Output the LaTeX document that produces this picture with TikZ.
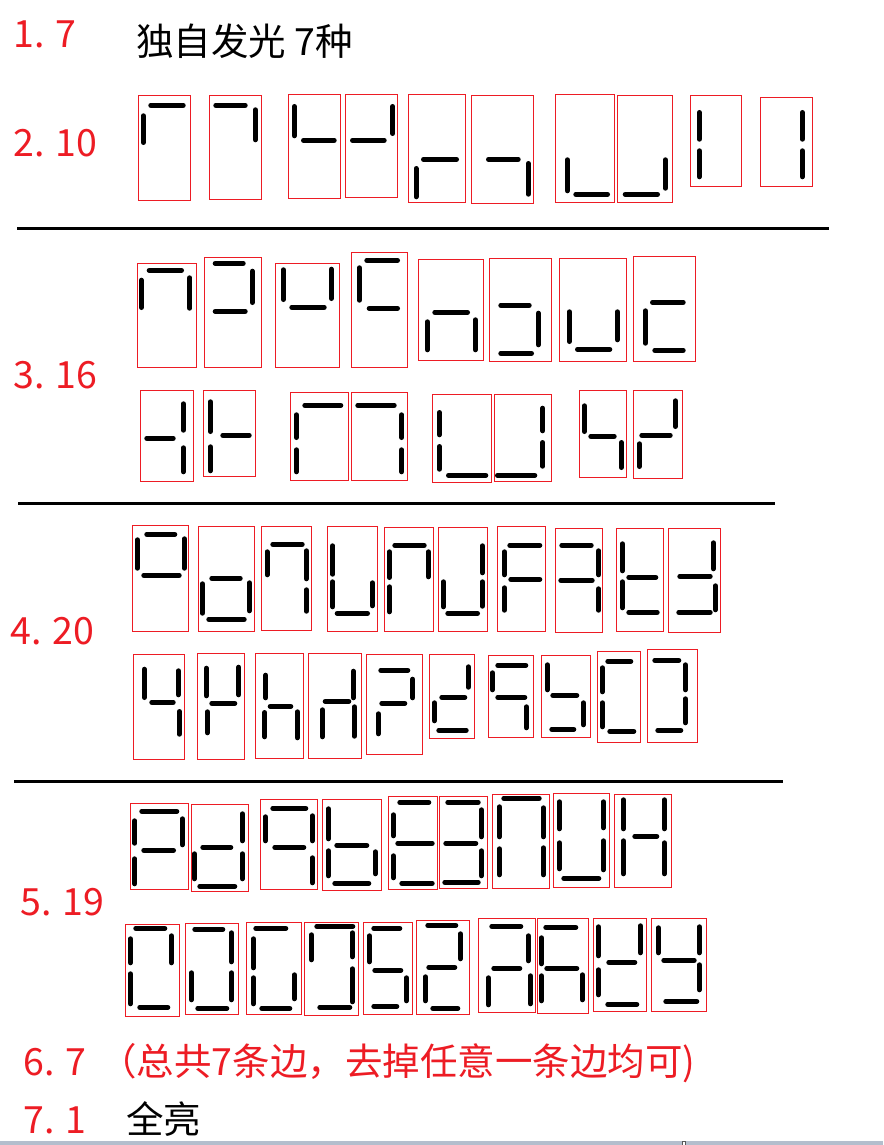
\documentclass[tikz,border=0pt]{standalone}
\usepackage{fontspec}
\newfontfamily\cjk{Noto Sans CJK SC}
\definecolor{pred}{RGB}{237,28,36}
\definecolor{barg}{RGB}{180,190,205}
\newcommand\bx[4]{\draw[boxline] (#1,#2) rectangle (#3,#4);}
\newcommand\hs[3]{\draw[seg] ({#2+2.5},#1) -- ({#3-2.5},#1);}
\newcommand\vs[3]{\draw[seg] (#1,{#2+2.5}) -- (#1,{#3-2.5});}
\begin{document}
\begin{tikzpicture}[x=1pt,y=-1pt,
  seg/.style={line width=5pt,line cap=round,black},
  boxline/.style={draw=pred,line width=1pt},
  rule/.style={line width=3pt,black},
  lab/.style={anchor=base west,inner sep=0pt,font=\cjk\fontsize{37.5}{37.5}\selectfont},
  redlab/.style={lab,text=pred}]
\useasboundingbox (0,0) rectangle (883,1145);
\fill[white] (0,0) rectangle (883,1145);
% labels
\node[redlab] (l1) at (13,48) {1. 7};
\node[lab] (t1) at (136,56) {独自发光 7种};
\node[redlab] (l2) at (13,157) {2. 10};
\node[redlab] (l3) at (13,388) {3. 16};
\node[redlab] (l4) at (10,644) {4. 20};
\node[redlab] (l5) at (20,915) {5. 19};
\node[redlab] (l6) at (23,1075) {6. 7};
\node[redlab] (t6) at (99,1075) {（总共7条边，去掉任意一条边均可)};
\node[redlab] (l7) at (23,1133) {7. 1};
\node[lab] (t7) at (126,1133) {全亮};
% rules
\draw[rule] (17,228) -- (829,228);
\draw[rule] (18,503) -- (775,503);
\draw[rule] (14,781) -- (783,781);
% bottom strip
\fill[barg] (0,1141) rectangle (883,1145);
\draw[gray!70!black,fill=white,line width=0.8pt] (682,1141.5) rectangle (685.5,1145);
% row 2
\bx{138.3}{95.7}{190.3}{200.3}\hs{105.3}{148.3}{185.7}\vs{143.3}{113.3}{145}
\bx{209.3}{95.7}{261.3}{199.3}\hs{105.3}{213.3}{247.7}\vs{255.3}{107.3}{142.3}
\bx{288.3}{94.7}{340.3}{198.3}\vs{294.3}{104}{138.3}\hs{140.3}{301}{336.7}
\bx{345.3}{94.7}{397.3}{197.3}\hs{140.3}{350}{386.7}\vs{392.7}{104}{136}
\bx{408.3}{94.3}{465.3}{202.3}\hs{159.3}{421}{459}\vs{416}{166}{199.3}
\bx{471.3}{95.3}{533.3}{203.3}\hs{159.3}{486}{520.7}\vs{528.3}{161}{196.7}
\bx{555.3}{94.3}{614.3}{202.3}\vs{567.3}{157.3}{193.3}\hs{194.3}{573.3}{610}
\bx{617.3}{95.3}{672.3}{202.3}\hs{194.3}{622.7}{660}\vs{665.3}{157.3}{190.7}
\bx{690.3}{95.3}{741.3}{186.3}\vs{699.3}{110}{141.7}\vs{699.3}{148.3}{179.3}
\bx{760.3}{97.3}{812.3}{186.3}\vs{802.3}{110}{141.7}\vs{802.3}{148.3}{179.3}
% row 3a
\bx{137.3}{263.3}{196.3}{367.3}\hs{270.3}{146.7}{184}\vs{141.3}{277.7}{310}\vs{189.7}{275.3}{310.7}
\bx{204.3}{257.3}{261.3}{367.3}\hs{263.3}{212.7}{245.7}\vs{252.3}{268.7}{305}\hs{311.3}{212.7}{247.7}
\bx{275.3}{263.3}{339.3}{367.3}\vs{283.3}{267.3}{302}\vs{331.3}{266.7}{301}\hs{307.3}{289.3}{326.7}
\bx{351.3}{252.3}{407.3}{367.3}\hs{260.3}{364.3}{400}\vs{359.3}{265.3}{302.7}\hs{308.3}{366.7}{400}
\bx{418.3}{259.3}{483.3}{360.3}\hs{312.3}{432.3}{470}\vs{427.3}{319.3}{352.3}\vs{475.3}{317.3}{352.3}
\bx{489.3}{258.3}{551.7}{361.3}\hs{305.3}{498.3}{531.7}\vs{538.3}{310.7}{347.3}\hs{353.3}{498.3}{534}
\bx{559.3}{258.3}{626.7}{361.3}\vs{569.3}{309.3}{344}\vs{617.3}{309.3}{342.3}\hs{349.3}{575}{612.3}
\bx{633.3}{256.3}{695.3}{361.3}\hs{302.3}{650}{685.7}\vs{645.3}{308.3}{345.7}\hs{350.3}{652.3}{685.7}
% row 3b
\bx{140.3}{390.3}{193.3}{481}\hs{438.3}{144.3}{175.7}\vs{183.3}{401.3}{432.7}\vs{183.3}{445.3}{474.3}
\bx{203.3}{390.3}{255.3}{476}\vs{210.3}{399.3}{434}\vs{210.3}{444.3}{473.3}\hs{435.3}{220.3}{251.7}
\bx{290.3}{392.3}{348.3}{480}\hs{405.3}{302.3}{343.3}\vs{296.3}{412.3}{440}\vs{296.3}{447.3}{474.3}
\bx{351.3}{392.3}{407.3}{480}\hs{405.3}{355.3}{396.7}\vs{401.7}{412.3}{440}\vs{401.7}{447.3}{474.3}
\bx{432.3}{394.3}{491.7}{482.3}\vs{439.3}{410}{437.3}\vs{439.3}{444}{471.7}\hs{475.3}{446}{488.3}
\bx{494.3}{394.3}{551.7}{481.3}\vs{542.7}{405.7}{433.3}\vs{542.7}{440}{468.7}\hs{475.3}{495}{537.3}
\bx{579.3}{390.3}{626.7}{477.3}\vs{584.3}{403.3}{434}\hs{436.3}{588.3}{616.7}\vs{621.3}{440}{470}
\bx{633.3}{390.3}{682.3}{478.3}\vs{675.3}{398.3}{429}\hs{435.3}{639.3}{672.7}\vs{639.3}{441.3}{469}
% row 4a
\bx{132.3}{525.3}{188.3}{631.3}\hs{534.3}{144.3}{177.3}\vs{137.3}{537.3}{570.7}\vs{184.3}{536.3}{570.7}\hs{575.3}{141.3}{181.7}
\bx{198.3}{526.3}{254.3}{631.3}\hs{578.3}{209.3}{242.7}\vs{202.3}{581.3}{615.7}\vs{249.3}{580.3}{613.3}\hs{619.3}{206.3}{246.7}
\bx{261.3}{526.3}{311.3}{630.3}\hs{544.3}{270.3}{304.7}\vs{267}{549.3}{577.3}\vs{306.3}{548.3}{581.3}\vs{306.3}{587.3}{613.7}
\bx{327.3}{526.3}{377.3}{631.3}\vs{332.7}{543.3}{576.7}\vs{332.7}{579.3}{609.3}\vs{372.3}{580.3}{608.3}\hs{613.3}{334.7}{370}
\bx{384.3}{527.3}{433.3}{631.3}\hs{545.3}{392.3}{426.7}\vs{389.3}{549.3}{580}\vs{389.3}{584.3}{614.3}\vs{428.3}{549.3}{579.3}
\bx{438.3}{527.3}{487.3}{631.3}\vs{482.3}{543.3}{575.3}\vs{482.3}{579.3}{608.7}\vs{443.3}{579.3}{609.3}\hs{613.3}{445.3}{480}
\bx{497.3}{526.3}{545.3}{631.3}\hs{545.3}{507.3}{542.3}\vs{504.3}{549.3}{577.3}\vs{504.3}{585.3}{612.7}\hs{579.3}{508.3}{542.3}
\bx{555.3}{528.3}{602.3}{632.3}\hs{545.3}{559.3}{593.7}\vs{598.7}{548.3}{577.3}\vs{598.7}{586.3}{612.7}\hs{580.3}{558.3}{594.7}
\bx{616.3}{528.3}{663.3}{631.3}\vs{622.3}{541.3}{573.3}\vs{622.3}{579.3}{610.3}\hs{577.3}{626.3}{658.3}\hs{612.3}{626.3}{659.7}
\bx{668.3}{528.3}{720.3}{632.3}\vs{713.3}{540.3}{571.3}\hs{576.3}{677.3}{712.7}\vs{715.3}{583.3}{612.3}\hs{612.3}{676.3}{712.7}
% row 4b
\bx{133.3}{654.3}{184.3}{759.3}\vs{144.3}{666.7}{700}\hs{702.3}{149.3}{175.7}\vs{178.3}{668.3}{697.3}\vs{179.3}{709}{736.7}
\bx{197.3}{653.3}{244.3}{759.3}\vs{206.3}{665.7}{698.3}\vs{238.7}{664.7}{697.3}\hs{703.3}{209.3}{237.3}\vs{207.3}{709.3}{735.3}
\bx{255.3}{653.3}{303.3}{758.3}\vs{265.7}{672.7}{700.3}\hs{706.3}{267.7}{293.3}\vs{264.7}{710}{739.3}\vs{297.3}{709.3}{740.3}
\bx{308.3}{653.3}{361.3}{758.3}\vs{353.3}{668.7}{700.3}\hs{701.3}{322.7}{351.3}\vs{322.3}{707.3}{739.3}\vs{354.3}{704.3}{738.7}
\bx{366.3}{654.3}{422.3}{754.3}\hs{670.3}{378.3}{410.3}\vs{412.7}{676.7}{700.3}\hs{703.3}{379.3}{407.3}\vs{378.3}{711.3}{736.3}
\bx{429.3}{654.3}{474.3}{738.3}\vs{468.3}{664.3}{689.7}\hs{697.3}{439.3}{467.3}\vs{434.3}{700.3}{723.3}\hs{730.3}{436.3}{468.7}
\bx{488.3}{655.3}{533.3}{737.3}\hs{665.3}{495.3}{528.3}\vs{492.3}{670.3}{692.3}\hs{697.3}{495.3}{527.3}\vs{526.3}{704.3}{730.3}
\bx{541.3}{655.3}{590.3}{737.3}\vs{547.3}{662.3}{692.3}\hs{695.3}{550.3}{579.3}\vs{583.3}{700.3}{727.3}\hs{729.3}{549.3}{576.3}
\bx{597.3}{651.3}{640.3}{742.3}\hs{661.3}{605.3}{633.3}\vs{602.3}{665.3}{694.3}\vs{602.3}{700.3}{729.3}\hs{731.3}{607.3}{636.3}
\bx{647.3}{649.3}{697.3}{742.3}\hs{660.3}{652.3}{681.3}\vs{685.3}{662.3}{692.3}\vs{685.3}{696.3}{725.3}\hs{730.3}{655.3}{683.3}
% row 5a
\bx{130.3}{803.3}{188.3}{889.3}\hs{811.3}{139.3}{179.3}\vs{134.7}{818.3}{845.7}\vs{134.7}{856.3}{886.3}\vs{182.3}{816.3}{847.3}\hs{850.3}{141.3}{176}
\bx{191.3}{804.3}{248.3}{891.3}\vs{242.3}{811.3}{843.3}\vs{242.3}{851.3}{881.3}\hs{847.3}{200.3}{233.3}\vs{194.3}{851.3}{881.3}\hs{886.3}{197.3}{237.3}
\bx{260.3}{799.3}{317.3}{889.3}\hs{808.3}{270.3}{308.3}\vs{265.3}{814.3}{843.3}\vs{312.3}{813.3}{843.3}\vs{312.3}{855.3}{885.3}\hs{847.3}{272.3}{306.3}
\bx{322.3}{799.3}{381.3}{890.3}\vs{328.3}{806.3}{841.3}\vs{328.3}{848.3}{878.3}\hs{845.3}{334.3}{369.3}\vs{375.3}{849.3}{876.3}\hs{883.3}{332.3}{371.3}
\bx{388.3}{796.3}{437.3}{889.3}\hs{802.3}{397.3}{431.3}\vs{393.3}{812.3}{838.3}\vs{393.3}{853.3}{880.3}\hs{843.3}{395.3}{434.7}\hs{883.3}{399.3}{434.7}
\bx{439.3}{796.3}{487.3}{888.3}\hs{802.3}{445.3}{480.7}\vs{481.3}{807.3}{839.3}\vs{481.3}{848.3}{878.3}\hs{843.3}{443.3}{478.3}\hs{882.3}{442.3}{480.7}
\bx{492.3}{794.3}{549.3}{888.3}\hs{798.3}{501.3}{541.7}\vs{499.3}{804.3}{839.3}\vs{499.3}{846.3}{877.3}\vs{543.3}{805.3}{839.3}\vs{543.3}{845.3}{877.3}
\bx{553.3}{793.3}{609.3}{887.3}\vs{559.3}{799.3}{831.3}\vs{559.3}{840.3}{871.3}\vs{603.3}{799.3}{830.3}\vs{603.3}{838.3}{872.3}\hs{878.3}{561.3}{601.3}
\bx{614.3}{794.3}{671.3}{887.3}\vs{623.3}{797.3}{831.3}\vs{623.3}{838.3}{876.3}\vs{664.3}{797.3}{831.3}\vs{664.3}{840.3}{876.3}\hs{836.3}{632.3}{659.3}
% row 5b
\bx{125.3}{924.3}{179.3}{1016.3}\hs{928.3}{133.3}{167.3}\vs{130.3}{936.3}{965.3}\vs{130.3}{971.3}{1006.3}\vs{171.3}{933.3}{965.3}\hs{1007.3}{137.3}{170.3}
\bx{185.3}{923.3}{238.3}{1014.3}\hs{929.3}{192.3}{225.3}\vs{231.3}{930.3}{964.3}\vs{231.3}{970.3}{1002.3}\vs{191.3}{970.3}{1002.3}\hs{1008.3}{195.3}{229.3}
\bx{246.3}{922.3}{301.3}{1014.3}\hs{928.3}{253.3}{288.3}\vs{253.3}{936.3}{970.3}\vs{253.3}{975.3}{1006.3}\vs{294.3}{972.3}{1001.3}\hs{1008.3}{259.3}{292.3}
\bx{304.3}{922.3}{358.3}{1015.3}\hs{926.3}{314.3}{355.3}\vs{311.3}{932.3}{962.3}\vs{352.3}{930.3}{959.3}\vs{352.3}{966.3}{1004.3}\hs{1007.3}{317.3}{352.3}
\bx{363.3}{922.3}{412.3}{1014.3}\hs{928.3}{371.3}{402.3}\vs{369.3}{933.3}{964.3}\hs{970.3}{372.3}{403.3}\vs{406.3}{975.3}{1003.3}\hs{1006.3}{371.3}{399.3}
\bx{416.3}{920.3}{469.3}{1014.3}\hs{925.3}{425.3}{458.3}\vs{460.3}{931.3}{961.3}\hs{967.3}{426.3}{457.3}\vs{425.3}{974.3}{1003.3}\hs{1008.3}{430.3}{460.3}
\bx{478.3}{918.3}{535.3}{1012.3}\hs{926.3}{489.3}{523.3}\vs{528.3}{933.3}{963.3}\hs{968.3}{491.3}{522.3}\vs{488.3}{975.3}{1007.3}\vs{530.3}{973.3}{1006.3}
\bx{537.3}{918.3}{588.3}{1013.3}\hs{927.3}{543.3}{578.3}\vs{541.3}{935.3}{966.3}\vs{541.3}{973.3}{1003.3}\hs{968.3}{544.3}{579.3}\vs{582.3}{972.3}{1002.3}
\bx{593.3}{918.3}{646.3}{1011.3}\vs{598.3}{924.3}{958.3}\vs{598.3}{967.3}{997.3}\vs{640.3}{923.3}{955.3}\hs{962.3}{606.3}{637.3}\hs{1004.3}{605.3}{639.3}
\bx{651.3}{918.3}{706.3}{1011.3}\vs{658.3}{925.3}{955.3}\vs{699.3}{924.3}{955.3}\vs{699.3}{962.3}{992.3}\hs{960.3}{661.3}{696.7}\hs{1001.3}{663.3}{699.3}
\end{tikzpicture}
\end{document}
